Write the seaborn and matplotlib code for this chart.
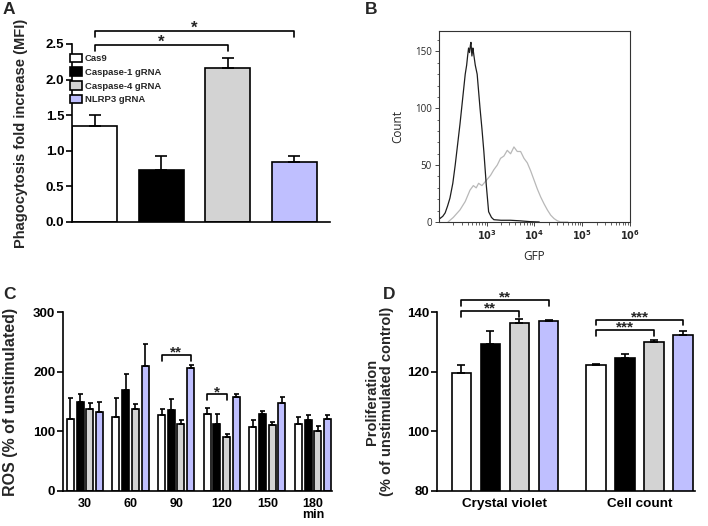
import numpy as np
import pandas as pd
import seaborn as sns
import matplotlib.pyplot as plt
from matplotlib.patches import Patch
from matplotlib.container import BarContainer
from matplotlib.ticker import MultipleLocator, LogLocator, NullFormatter

# groups shared by panels A, C and D
groups = ['Cas9', 'Caspase-1 gRNA', 'Caspase-4 gRNA', 'NLRP3 gRNA']
group_colors = ['#ffffff', '#000000', '#d3d3d3', '#bfbfff']

# A - phagocytosis fold increase (MFI)
phago_mean = [1.35, 0.73, 2.16, 0.84]
phago_sem = [0.15, 0.20, 0.15, 0.08]

# B - GFP histogram (log10 of GFP, count)
gfp_black_log = [2.0, 2.02, 2.08, 2.13, 2.18, 2.23, 2.29, 2.34, 2.39, 2.44, 2.50, 2.55,
                 2.58, 2.60, 2.62, 2.64, 2.66, 2.67, 2.69, 2.71, 2.72, 2.76, 2.80,
                 2.86, 2.90, 2.94, 2.99, 3.04, 3.10, 3.15, 3.3, 3.5, 3.7, 3.9, 4.1]
gfp_black_cnt = [5, 3, 5, 8, 14, 21, 34, 50, 68, 86, 110, 130,
                 138, 146, 153, 149, 156, 158, 146, 153, 150, 138, 130,
                 100, 82, 62, 33, 9, 4, 2, 1.5, 1.5, 1, 0.3, 0]
gfp_gray_log = [2.19, 2.3, 2.44, 2.55, 2.65, 2.72, 2.78, 2.83, 2.9, 3.0, 3.08, 3.15,
                3.22, 3.29, 3.36, 3.43, 3.5, 3.57, 3.64, 3.71, 3.78, 3.85, 3.92,
                3.99, 4.06, 4.13, 4.2, 4.27, 4.34, 4.41, 4.48, 4.55, 4.7]
gfp_gray_cnt = [0, 4, 10.6, 18, 28, 32, 30, 34, 32, 37, 41, 46,
                50, 56, 58, 63, 60, 66, 62, 62, 56, 52, 45,
                37, 29, 22, 16, 10.6, 6, 3, 1, 0, 0]

# C - ROS (% of unstimulated)
ros_times = ['30', '60', '90', '120', '150', '180']
ros_cas9 = [120, 124, 128, 129, 108, 112]
ros_cas9_sem = [36, 32, 9, 10, 11, 12]
ros_casp1 = [149, 169, 136, 112, 129, 119]
ros_casp1_sem = [13, 28, 18, 17, 5, 8]
ros_casp4 = [137, 137, 112, 91, 110, 100]
ros_casp4_sem = [11, 9, 7, 5, 5, 9]
ros_nlrp3 = [132, 210, 207, 157, 148, 120]
ros_nlrp3_sem = [18, 36, 5, 6, 10, 7]

# D - proliferation (% of unstimulated control)
prolif_assays = ['Crystal violet', 'Cell count']
prolif_cas9 = [119.7, 122.2]
prolif_cas9_sem = [2.6, 0.5]
prolif_casp1 = [129.5, 124.6]
prolif_casp1_sem = [4.2, 1.5]
prolif_casp4 = [136.4, 130.2]
prolif_casp4_sem = [1.4, 0.6]
prolif_nlrp3 = [137.1, 132.5]
prolif_nlrp3_sem = [0.4, 1.1]

sns.set_style('ticks')
plt.rcParams['font.family'] = ['Liberation Sans', 'DejaVu Sans']
plt.rcParams['font.weight'] = 'bold'
plt.rcParams['axes.labelweight'] = 'bold'

palette = dict(zip(groups, group_colors))
LW = 1.2


def style_axis(ax, tsize=9.5):
    sns.despine(ax=ax)
    for s in ['left', 'bottom']:
        ax.spines[s].set_linewidth(LW)
        ax.spines[s].set_color('black')
    ax.tick_params(axis='y', length=4, width=LW, labelsize=tsize, pad=1.5, colors='black')
    ax.tick_params(axis='x', length=0, labelsize=tsize, colors='black')


def bar_conts(ax):
    return [c for c in ax.containers if isinstance(c, BarContainer)]


def centers(ax):
    return [[b.get_x() + b.get_width() / 2 for b in c] for c in bar_conts(ax)]


def add_errors(ax, sems, capsize):
    # sems: one list per hue level, in container order
    for cont, sem in zip(bar_conts(ax), sems):
        xs = [b.get_x() + b.get_width() / 2 for b in cont]
        ys = [b.get_height() + b.get_y() for b in cont]
        ax.errorbar(xs, ys, yerr=[np.zeros(len(sem)), sem], fmt='none',
                    ecolor='black', elinewidth=LW, capsize=capsize, capthick=LW, zorder=1)


def bracket(ax, x1, x2, y, h, label, size, dy):
    ax.plot([x1, x1, x2, x2], [y - h, y, y, y - h], color='black', lw=LW, clip_on=False)
    ax.annotate(label, xy=((x1 + x2) / 2, y), xytext=(0, dy), textcoords='offset points',
                ha='center', va='baseline', fontsize=size, fontweight='bold',
                annotation_clip=False)


fig = plt.figure(figsize=(7.08, 5.26), dpi=100)
axA = fig.add_axes([0.1017, 0.578, 0.3644, 0.3384])
axB = fig.add_axes([0.620, 0.578, 0.2698, 0.3631])
axC = fig.add_axes([0.089, 0.0671, 0.380, 0.339])
axD = fig.add_axes([0.617, 0.0671, 0.3644, 0.339])

# ---- A
dfA = pd.DataFrame({'group': groups, 'mfi': phago_mean})
sns.barplot(data=dfA, x='group', y='mfi', hue='group', palette=palette, order=groups,
            hue_order=groups, width=0.675, saturation=1, edgecolor='black',
            linewidth=LW, errorbar=None, legend=False, ax=axA)
add_errors(axA, [[s] for s in phago_sem], 4.5)
axA.set_xlim(-0.34, 3.54)
axA.set_ylim(0, 2.5)
axA.set_yticks([0, 0.5, 1.0, 1.5, 2.0, 2.5])
axA.set_yticklabels(['0.0', '0.5', '1.0', '1.5', '2.0', '2.5'])
axA.set_xticks([])
axA.set_xlabel('')
axA.set_ylabel('Phagocytosis fold increase (MFI)', fontsize=10.5, labelpad=13)
style_axis(axA)
cA = [c[0] for c in centers(axA)]
bracket(axA, cA[0], cA[2], 2.48, 0.08, '*', 12, -1)
bracket(axA, cA[0], cA[3], 2.68, 0.08, '*', 12, -1)
handles = [Patch(facecolor=c, edgecolor='black', linewidth=LW) for c in group_colors]
axA.legend(handles, groups, loc='upper left', bbox_to_anchor=(-0.008, 0.945),
           frameon=False, borderpad=0, borderaxespad=0, handlelength=1.25,
           handleheight=1.0, handletextpad=0.35, labelspacing=0.45,
           prop={'weight': 'bold', 'size': 6.8})

# ---- B
sns.lineplot(x=10 ** np.array(gfp_gray_log), y=gfp_gray_cnt, color='#b8b8b8',
             lw=0.9, ax=axB)
sns.lineplot(x=10 ** np.array(gfp_black_log), y=gfp_black_cnt, color='#1e1e1e',
             lw=0.9, ax=axB)
axB.set_xscale('log')
axB.set_xlim(100, 1e6)
axB.set_ylim(0, 168)
axB.set_xticks([1e3, 1e4, 1e5, 1e6])
axB.set_xticklabels(['$10^3$', '$10^4$', '$10^5$', '$10^6$'])
axB.xaxis.set_minor_locator(LogLocator(base=10, subs=np.arange(2, 10)))
axB.xaxis.set_minor_formatter(NullFormatter())
axB.set_yticks([0, 50, 100, 150])
axB.yaxis.set_minor_locator(MultipleLocator(10))
for s in axB.spines.values():
    s.set_linewidth(0.8)
    s.set_color('#333333')
axB.tick_params(which='major', length=3, width=0.6, labelsize=7, pad=2)
axB.tick_params(which='minor', length=1.8, width=0.5)
for lbl in axB.get_xticklabels() + axB.get_yticklabels():
    lbl.set_fontweight('normal')
    lbl.set_family('Open Sans')
axB.set_xlabel('GFP', fontsize=8.5, fontweight='normal', family='Open Sans', labelpad=5)
axB.set_ylabel('Count', fontsize=8.5, fontweight='normal', family='Open Sans', labelpad=8)

# ---- C
dfC = pd.DataFrame({
    'time': ros_times * 4,
    'group': np.repeat(groups, len(ros_times)),
    'ros': ros_cas9 + ros_casp1 + ros_casp4 + ros_nlrp3,
})
sns.barplot(data=dfC, x='time', y='ros', hue='group', order=ros_times, hue_order=groups,
            palette=palette, width=0.85, gap=0.28, saturation=1, edgecolor='black',
            linewidth=LW, errorbar=None, legend=False, ax=axC)
add_errors(axC, [ros_cas9_sem, ros_casp1_sem, ros_casp4_sem, ros_nlrp3_sem], 1.8)
axC.set_xlim(-0.48, 5.42)
axC.set_ylim(0, 300)
axC.set_yticks([0, 100, 200, 300])
axC.set_xticks(range(len(ros_times)))
axC.set_xticklabels(ros_times[:-1] + [ros_times[-1] + '\nmin'], linespacing=0.95)
axC.set_xlabel('')
axC.set_ylabel('ROS (% of unstimulated)', fontsize=11.5, labelpad=11)
style_axis(axC)
axC.tick_params(axis='x', labelsize=9, pad=5)
cC = centers(axC)
bracket(axC, cC[0][2], cC[3][2], 229, 11, '**', 11, -1.2)
bracket(axC, cC[0][3], cC[2][3], 162, 10, '*', 11, -1.2)

# ---- D
dfD = pd.DataFrame({
    'assay': prolif_assays * 4,
    'group': np.repeat(groups, len(prolif_assays)),
    'prolif': prolif_cas9 + prolif_casp1 + prolif_casp4 + prolif_nlrp3,
})
sns.barplot(data=dfD, x='assay', y='prolif', hue='group', order=prolif_assays,
            hue_order=groups, palette=palette, width=0.863, gap=0.33, saturation=1,
            edgecolor='black', linewidth=LW, errorbar=None, legend=False, ax=axD)
add_errors(axD, [prolif_cas9_sem, prolif_casp1_sem, prolif_casp4_sem, prolif_nlrp3_sem], 3)
axD.set_xlim(-0.506, 1.41)
axD.set_ylim(80, 140)
axD.set_yticks([80, 100, 120, 140])
axD.set_xlabel('')
axD.set_ylabel('Proliferation\n(% of unstimulated control)', fontsize=10.5, labelpad=9,
               linespacing=1.1)
style_axis(axD)
axD.tick_params(axis='x', labelsize=9.7, pad=5)
cD = centers(axD)
bracket(axD, cD[0][0], cD[2][0], 140.4, 1.9, '**', 11, -1.2)
bracket(axD, cD[0][0], cD[3][0], 144.1, 1.9, '**', 11, -1.2)
bracket(axD, cD[0][1], cD[2][1], 134.1, 2.0, '***', 11, -1.2)
bracket(axD, cD[0][1], cD[3][1], 137.6, 2.0, '***', 11, -1.2)

# panel letters
for lbl, x, y in [('A', 0.004, 0.997), ('B', 0.516, 0.997), ('C', 0.004, 0.455), ('D', 0.541, 0.455)]:
    fig.text(x, y, lbl, fontsize=12.5, fontweight='bold', va='top', ha='left')

fig.savefig('out.png', dpi=100)
